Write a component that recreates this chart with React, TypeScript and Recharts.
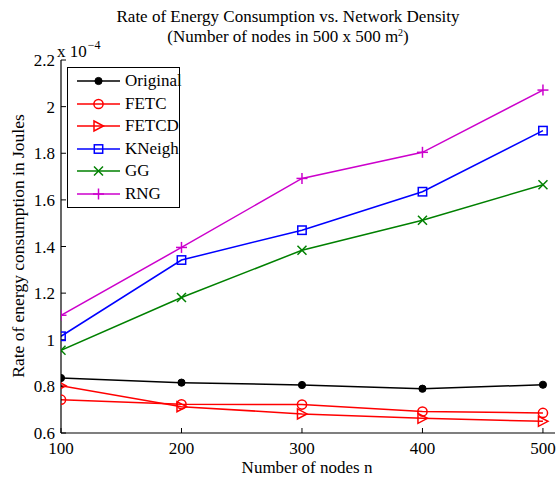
import React from "react";
import { ComposedChart, Line, XAxis, YAxis, CartesianGrid } from "recharts";

const nodes = [100, 200, 300, 400, 500];
const original = [0.836, 0.816, 0.806, 0.79, 0.807];
const fetc = [0.743, 0.723, 0.722, 0.692, 0.686];
const fetcd = [0.803, 0.713, 0.682, 0.663, 0.65];
const kneigh = [1.015, 1.342, 1.47, 1.635, 1.897];
const gg = [0.955, 1.181, 1.384, 1.513, 1.665];
const rng = [1.105, 1.396, 1.692, 1.804, 2.071];

const xTicks = [100, 200, 300, 400, 500];
const yTicks = [0.6, 0.8, 1.0, 1.2, 1.4, 1.6, 1.8, 2.0, 2.2];

const titleLine1 = "Rate of Energy Consumption vs. Network Density";
const xLabel = "Number of nodes n";
const yLabel = "Rate of energy consumption in Joules";

type MarkerType = "dot" | "circle" | "triangle" | "square" | "x" | "plus";

const seriesDefs: { key: string; name: string; color: string; marker: MarkerType; values: number[] }[] = [
  { key: "original", name: "Original", color: "#000000", marker: "dot", values: original },
  { key: "fetc", name: "FETC", color: "#ff0000", marker: "circle", values: fetc },
  { key: "fetcd", name: "FETCD", color: "#ff0000", marker: "triangle", values: fetcd },
  { key: "kneigh", name: "KNeigh", color: "#0000ff", marker: "square", values: kneigh },
  { key: "gg", name: "GG", color: "#008000", marker: "x", values: gg },
  { key: "rng", name: "RNG", color: "#cc00cc", marker: "plus", values: rng },
];

const data = nodes.map((n, i) => {
  const row: Record<string, number> = { n };
  seriesDefs.forEach((s) => {
    row[s.key] = s.values[i];
  });
  return row;
});

function Marker({ type, cx, cy, color }: { type: MarkerType; cx: number; cy: number; color: string }) {
  const sw = 1.5;
  switch (type) {
    case "dot":
      return <circle cx={cx} cy={cy} r={3.6} fill={color} stroke={color} strokeWidth={1} />;
    case "circle":
      return <circle cx={cx} cy={cy} r={4.6} fill="none" stroke={color} strokeWidth={sw} />;
    case "triangle":
      return (
        <polygon
          points={`${cx - 4.5},${cy - 5} ${cx + 5},${cy} ${cx - 4.5},${cy + 5}`}
          fill="none"
          stroke={color}
          strokeWidth={sw}
        />
      );
    case "square":
      return <rect x={cx - 4.2} y={cy - 4.2} width={8.4} height={8.4} fill="none" stroke={color} strokeWidth={sw} />;
    case "x":
      return (
        <g stroke={color} strokeWidth={sw}>
          <line x1={cx - 4.5} y1={cy - 4.5} x2={cx + 4.5} y2={cy + 4.5} />
          <line x1={cx - 4.5} y1={cy + 4.5} x2={cx + 4.5} y2={cy - 4.5} />
        </g>
      );
    case "plus":
      return (
        <g stroke={color} strokeWidth={sw}>
          <line x1={cx - 5.5} y1={cy} x2={cx + 5.5} y2={cy} />
          <line x1={cx} y1={cy - 5.5} x2={cx} y2={cy + 5.5} />
        </g>
      );
  }
  return null;
}

const fmtY = (v: number) => String(Math.round(v * 10) / 10);

const font = "'Liberation Serif', 'Times New Roman', serif";

export default function App() {
  return (
    <div
      style={{
        position: "absolute",
        left: 0,
        top: 0,
        width: 559,
        height: 477,
        background: "#fff",
        fontFamily: font,
        color: "#000",
      }}
    >
      <ComposedChart
        width={559}
        height={477}
        data={data}
        style={{ fontFamily: font }}
        margin={{ top: 60, right: 4, bottom: 0, left: 0 }}
      >
        <CartesianGrid
          stroke="#444"
          strokeDasharray="1 4"
          strokeWidth={1}
          horizontalValues={yTicks}
          verticalValues={xTicks}
        />
        <XAxis
          xAxisId="b"
          dataKey="n"
          type="number"
          domain={[100, 510]}
          ticks={xTicks}
          allowDataOverflow
          height={44}
          tickSize={-5}
          tickMargin={14}
          stroke="#000"
          axisLine={{ stroke: "#000", strokeWidth: 1.2 }}
          tick={{ fill: "#000", fontSize: 17, fontFamily: font }}
        />
        <XAxis
          xAxisId="t"
          orientation="top"
          dataKey="n"
          type="number"
          domain={[100, 510]}
          ticks={xTicks}
          allowDataOverflow
          height={0}
          tickSize={-5}
          tickFormatter={() => ""}
          stroke="#000"
          axisLine={{ stroke: "#000", strokeWidth: 1.2 }}
        />
        <YAxis
          yAxisId="l"
          type="number"
          domain={[0.6, 2.2]}
          ticks={yTicks}
          allowDataOverflow
          width={61}
          tickSize={-5}
          tickMargin={11}
          tickFormatter={fmtY}
          stroke="#000"
          axisLine={{ stroke: "#000", strokeWidth: 1.2 }}
          tick={{ fill: "#000", fontSize: 17, fontFamily: font }}
        />
        <YAxis
          yAxisId="r"
          orientation="right"
          type="number"
          domain={[0.6, 2.2]}
          ticks={yTicks}
          allowDataOverflow
          width={0}
          tickSize={-5}
          tickFormatter={() => ""}
          stroke="#000"
          axisLine={{ stroke: "#000", strokeWidth: 1.2 }}
        />
        {seriesDefs.map((s) => (
          <Line
            key={s.key}
            xAxisId="b"
            yAxisId="l"
            dataKey={s.key}
            name={s.name}
            stroke={s.color}
            strokeWidth={1.5}
            isAnimationActive={false}
            dot={(p: any) => (
              <Marker key={`${s.key}-${p.index}`} type={s.marker} cx={p.cx} cy={p.cy} color={s.color} />
            )}
            activeDot={false}
          />
        ))}
      </ComposedChart>

      {/* Title */}
      <div
        style={{
          position: "absolute",
          left: 0,
          top: 7,
          width: 576,
          textAlign: "center",
          fontSize: 17,
          lineHeight: "19px",
          whiteSpace: "nowrap",
        }}
      >
        {titleLine1}
      </div>
      <div
        style={{
          position: "absolute",
          left: 0,
          top: 27,
          width: 576,
          textAlign: "center",
          fontSize: 17,
          lineHeight: "19px",
          whiteSpace: "nowrap",
        }}
      >
        (Number of nodes in 500 x 500 m
        <span style={{ fontSize: 10, position: "relative", top: -6 }}>2</span>)
      </div>

      {/* exponent */}
      <div
        style={{
          position: "absolute",
          left: 57,
          top: 42,
          fontSize: 17,
          lineHeight: "19px",
          whiteSpace: "nowrap",
        }}
      >
        x 10
        <span style={{ fontSize: 12, position: "relative", top: -8, marginLeft: 1 }}>−4</span>
      </div>

      {/* Y label */}
      <div
        style={{
          position: "absolute",
          left: 18 - 180,
          top: 246 - 10,
          width: 360,
          height: 20,
          lineHeight: "20px",
          textAlign: "center",
          fontSize: 17.5,
          whiteSpace: "nowrap",
          transform: "rotate(-90deg)",
          transformOrigin: "center",
        }}
      >
        {yLabel}
      </div>

      {/* X label */}
      <div
        style={{
          position: "absolute",
          left: 307 - 150,
          top: 458,
          width: 300,
          textAlign: "center",
          fontSize: 17,
          lineHeight: "19px",
          whiteSpace: "nowrap",
        }}
      >
        {xLabel}
      </div>

      {/* Legend */}
      <div
        style={{
          position: "absolute",
          left: 67,
          top: 67,
          width: 113,
          height: 141,
          border: "1px solid #000",
          background: "#fff",
          boxSizing: "border-box",
        }}
      >
        {seriesDefs.map((s, i) => (
          <div
            key={s.key}
            style={{
              position: "absolute",
              left: 0,
              top: 3 + i * 22.6,
              height: 20,
              width: 111,
            }}
          >
            <svg width={54} height={20} style={{ position: "absolute", left: 0, top: 0 }}>
              <line x1={9} y1={10} x2={52} y2={10} stroke={s.color} strokeWidth={1.5} />
              <Marker type={s.marker} cx={30.5} cy={10} color={s.color} />
            </svg>
            <span
              style={{
                position: "absolute",
                left: 57,
                top: 0,
                fontSize: 17,
                lineHeight: "20px",
                whiteSpace: "nowrap",
              }}
            >
              {s.name}
            </span>
          </div>
        ))}
      </div>
    </div>
  );
}
